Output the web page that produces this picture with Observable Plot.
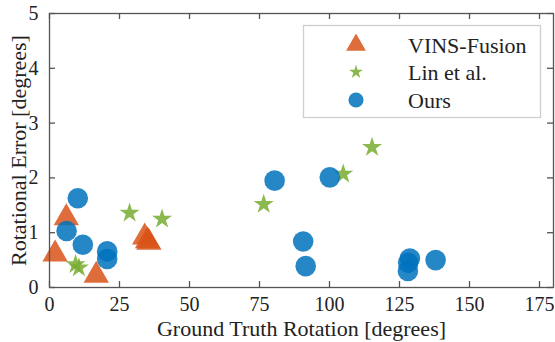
<!DOCTYPE html>
<html>
<head>
<meta charset="utf-8">
<script src="https://cdn.jsdelivr.net/npm/d3@7"></script>
<script src="https://cdn.jsdelivr.net/npm/@observablehq/plot@0.6"></script>
<style>
  html, body { margin: 0; padding: 0; background: #fff; }
  #chart { position: relative; width: 555px; height: 342px; }
</style>
</head>
<body>
<div id="chart"></div>
<script>
// ---- data ----
const seriesNames = ["VINS-Fusion", "Lin et al.", "Ours"];
const vinsX = [2, 6, 16.7, 34, 35, 35.5];
const vinsY = [0.61, 1.27, 0.22, 0.92, 0.85, 0.82];
const linX = [9.3, 10.5, 28.6, 40.2, 76.5, 104.9, 115.2];
const linY = [0.42, 0.36, 1.36, 1.25, 1.52, 2.07, 2.56];
const oursX = [10.1, 6.1, 11.9, 20.6, 20.6, 80.4, 100.1, 90.6, 91.5, 128.7, 128.1, 128, 137.9];
const oursY = [1.63, 1.03, 0.78, 0.66, 0.52, 1.95, 2.01, 0.84, 0.39, 0.53, 0.45, 0.30, 0.50];
const xTicks = [0, 25, 50, 75, 100, 125, 150, 175];
const yTicks = [0, 1, 2, 3, 4, 5];
const xLabel = "Ground Truth Rotation [degrees]";
const yLabel = "Rotational Error [degrees]";

const colors = {"VINS-Fusion": "#D95319", "Lin et al.": "#77AC30", "Ours": "#0072BD"};
const symbols = {"VINS-Fusion": "triangle", "Lin et al.": "star", "Ours": "circle"};
const radii = {"VINS-Fusion": 9.4, "Lin et al.": 6.3, "Ours": 10.3};

const toRows = (name, xs, ys) => xs.map((x, i) => ({series: name, x, y: ys[i]}));
const rows = {
  "VINS-Fusion": toRows("VINS-Fusion", vinsX, vinsY),
  "Lin et al.": toRows("Lin et al.", linX, linY),
  "Ours": toRows("Ours", oursX, oursY)
};

const W = 555, H = 342, mL = 49, mR = 2, mT = 13, mB = 55;
const fw = W - mL - mR, fh = H - mT - mB;
const font = "'Liberation Serif', 'Times New Roman', serif";
const axisColor = "#555";
const textColor = "#222";

const dotMarks = seriesNames.map(name => Plot.dot(rows[name], {
  x: "x", y: "y", symbol: () => symbols[name], r: radii[name],
  fill: colors[name], fillOpacity: 0.85, stroke: "none"
}));

const plot = Plot.plot({
  width: W, height: H,
  marginLeft: mL, marginRight: mR, marginTop: mT, marginBottom: mB,
  style: {fontFamily: font, background: "#fff", color: textColor, overflow: "visible"},
  x: {domain: [0, 180]},
  y: {domain: [0, 5]},
  marks: [
    ...dotMarks,
    Plot.frame({stroke: axisColor, strokeWidth: 1.3}),
    Plot.tickX(xTicks, {x: d => d, stroke: axisColor, strokeWidth: 1.3, insetTop: fh - 6}),
    Plot.tickX(xTicks, {x: d => d, stroke: axisColor, strokeWidth: 1.3, insetBottom: fh - 6}),
    Plot.tickY(yTicks, {y: d => d, stroke: axisColor, strokeWidth: 1.3, insetRight: fw - 6}),
    Plot.tickY(yTicks, {y: d => d, stroke: axisColor, strokeWidth: 1.3, insetLeft: fw - 6}),
    Plot.axisX({ticks: xTicks, tickSize: 0, tickPadding: 9, fontSize: 20, label: null, tickFormat: d => String(d), fill: textColor}),
    Plot.axisY({ticks: yTicks, tickSize: 0, tickPadding: 11, fontSize: 20, label: null, tickFormat: d => String(d), fill: textColor}),
    Plot.text([xLabel], {frameAnchor: "bottom", textAnchor: "middle", lineAnchor: "bottom", dy: 48, fontSize: 22, text: d => d, fill: textColor}),
    Plot.text([yLabel], {frameAnchor: "left", textAnchor: "middle", lineAnchor: "middle", dx: -31, rotate: -90, fontSize: 22, text: d => d, fill: textColor})
  ]
});

document.getElementById("chart").appendChild(plot);

// ---- legend (inside the axes, top-right) ----
const svg = d3.select(plot);
const lg = svg.append("g").attr("class", "legend").attr("text-anchor", "start");
lg.append("rect").attr("x", 303.5).attr("y", 25.5).attr("width", 237).attr("height", 92)
  .attr("fill", "#fff").attr("stroke", "#cfcfcf").attr("stroke-width", 1.3);
const legendSym = {"VINS-Fusion": [d3.symbolTriangle, 170], "Lin et al.": [d3.symbolStar, 60], "Ours": [d3.symbolCircle, 180]};
const legendY = [45, 72, 100];
seriesNames.forEach((name, i) => {
  lg.append("path")
    .attr("d", d3.symbol().type(legendSym[name][0]).size(legendSym[name][1])())
    .attr("transform", `translate(356,${legendY[i]})`)
    .attr("fill", colors[name]).attr("fill-opacity", 0.85);
  lg.append("text").attr("x", 408).attr("y", legendY[i]).attr("dy", "0.35em")
    .attr("text-anchor", "start")
    .attr("font-family", font).attr("font-size", 22).attr("fill", textColor).text(name);
});
</script>
</body>
</html>
